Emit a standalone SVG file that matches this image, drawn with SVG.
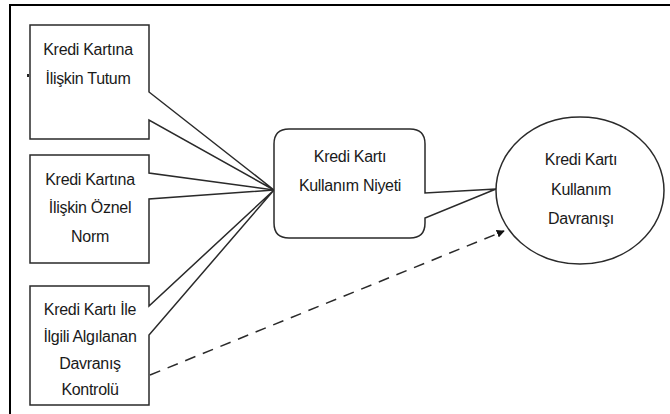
<svg xmlns="http://www.w3.org/2000/svg" width="670" height="414" viewBox="0 0 670 414">
  <defs>
    <style>
      .shape { fill: #ffffff; stroke: #2a2a2a; stroke-width: 1.5; stroke-linejoin: miter; }
      .lbl { font-family: "Liberation Sans", Arial, sans-serif; font-size: 16px; letter-spacing: -0.3px; fill: #1a1a1a; text-anchor: middle; }
      .frame { fill: none; stroke: #000000; stroke-width: 2; }
      .dash { fill: none; stroke: #2a2a2a; stroke-width: 1.5; stroke-dasharray: 11 8; }
    </style>
    <marker id="arrow" viewBox="0 0 10 10" refX="9" refY="5" markerWidth="8" markerHeight="8" markerUnits="userSpaceOnUse" orient="auto">
      <path d="M0,0 L10,5 L0,10 Z" fill="#111111"/>
    </marker>
  </defs>
  <rect x="0" y="0" width="670" height="414" fill="#ffffff"/>
  <path class="frame" d="M10,414 V5 H670"/>
  <rect x="27" y="74" width="2" height="3" fill="#222"/>

  <g id="connectors">
    <path class="dash" d="M150,375 L504,231" marker-end="url(#arrow)"/>
  </g>

  <g id="node-tutum">
    <path class="shape" d="M30,25 H149 V92 L274,190 L149,120 V139 H30 Z"/>
    <text class="lbl" x="88" y="55">Kredi Kartına</text>
    <text class="lbl" x="88" y="84">İlişkin Tutum</text>
  </g>

  <g id="node-norm">
    <path class="shape" d="M30,155 H149 V173 L274,190 L149,199 V263 H30 Z"/>
    <text class="lbl" x="90" y="185">Kredi Kartına</text>
    <text class="lbl" x="90" y="213">İlişkin Öznel</text>
    <text class="lbl" x="90" y="242">Norm</text>
  </g>

  <g id="node-kontrol">
    <path class="shape" d="M30,286 H149 V306 L274,190 L149,335 V405 H30 Z"/>
    <text class="lbl" x="90" y="315">Kredi Kartı İle</text>
    <text class="lbl" x="90" y="342">İlgili Algılanan</text>
    <text class="lbl" x="90" y="369">Davranış</text>
    <text class="lbl" x="90" y="395">Kontrolü</text>
  </g>

  <g id="node-niyet">
    <path class="shape" d="M289,129 H410 Q425,129 425,144 V193 L496,189 L425,218 V223 Q425,238 410,238 H289 Q274,238 274,223 V144 Q274,129 289,129 Z"/>
    <text class="lbl" x="350" y="162">Kredi Kartı</text>
    <text class="lbl" x="350" y="191">Kullanım Niyeti</text>
  </g>

  <g id="node-davranis">
    <ellipse class="shape" cx="580" cy="190.5" rx="84" ry="73.5"/>
    <text class="lbl" x="581" y="165">Kredi Kartı</text>
    <text class="lbl" x="581" y="195">Kullanım</text>
    <text class="lbl" x="581" y="224">Davranışı</text>
  </g>
</svg>
